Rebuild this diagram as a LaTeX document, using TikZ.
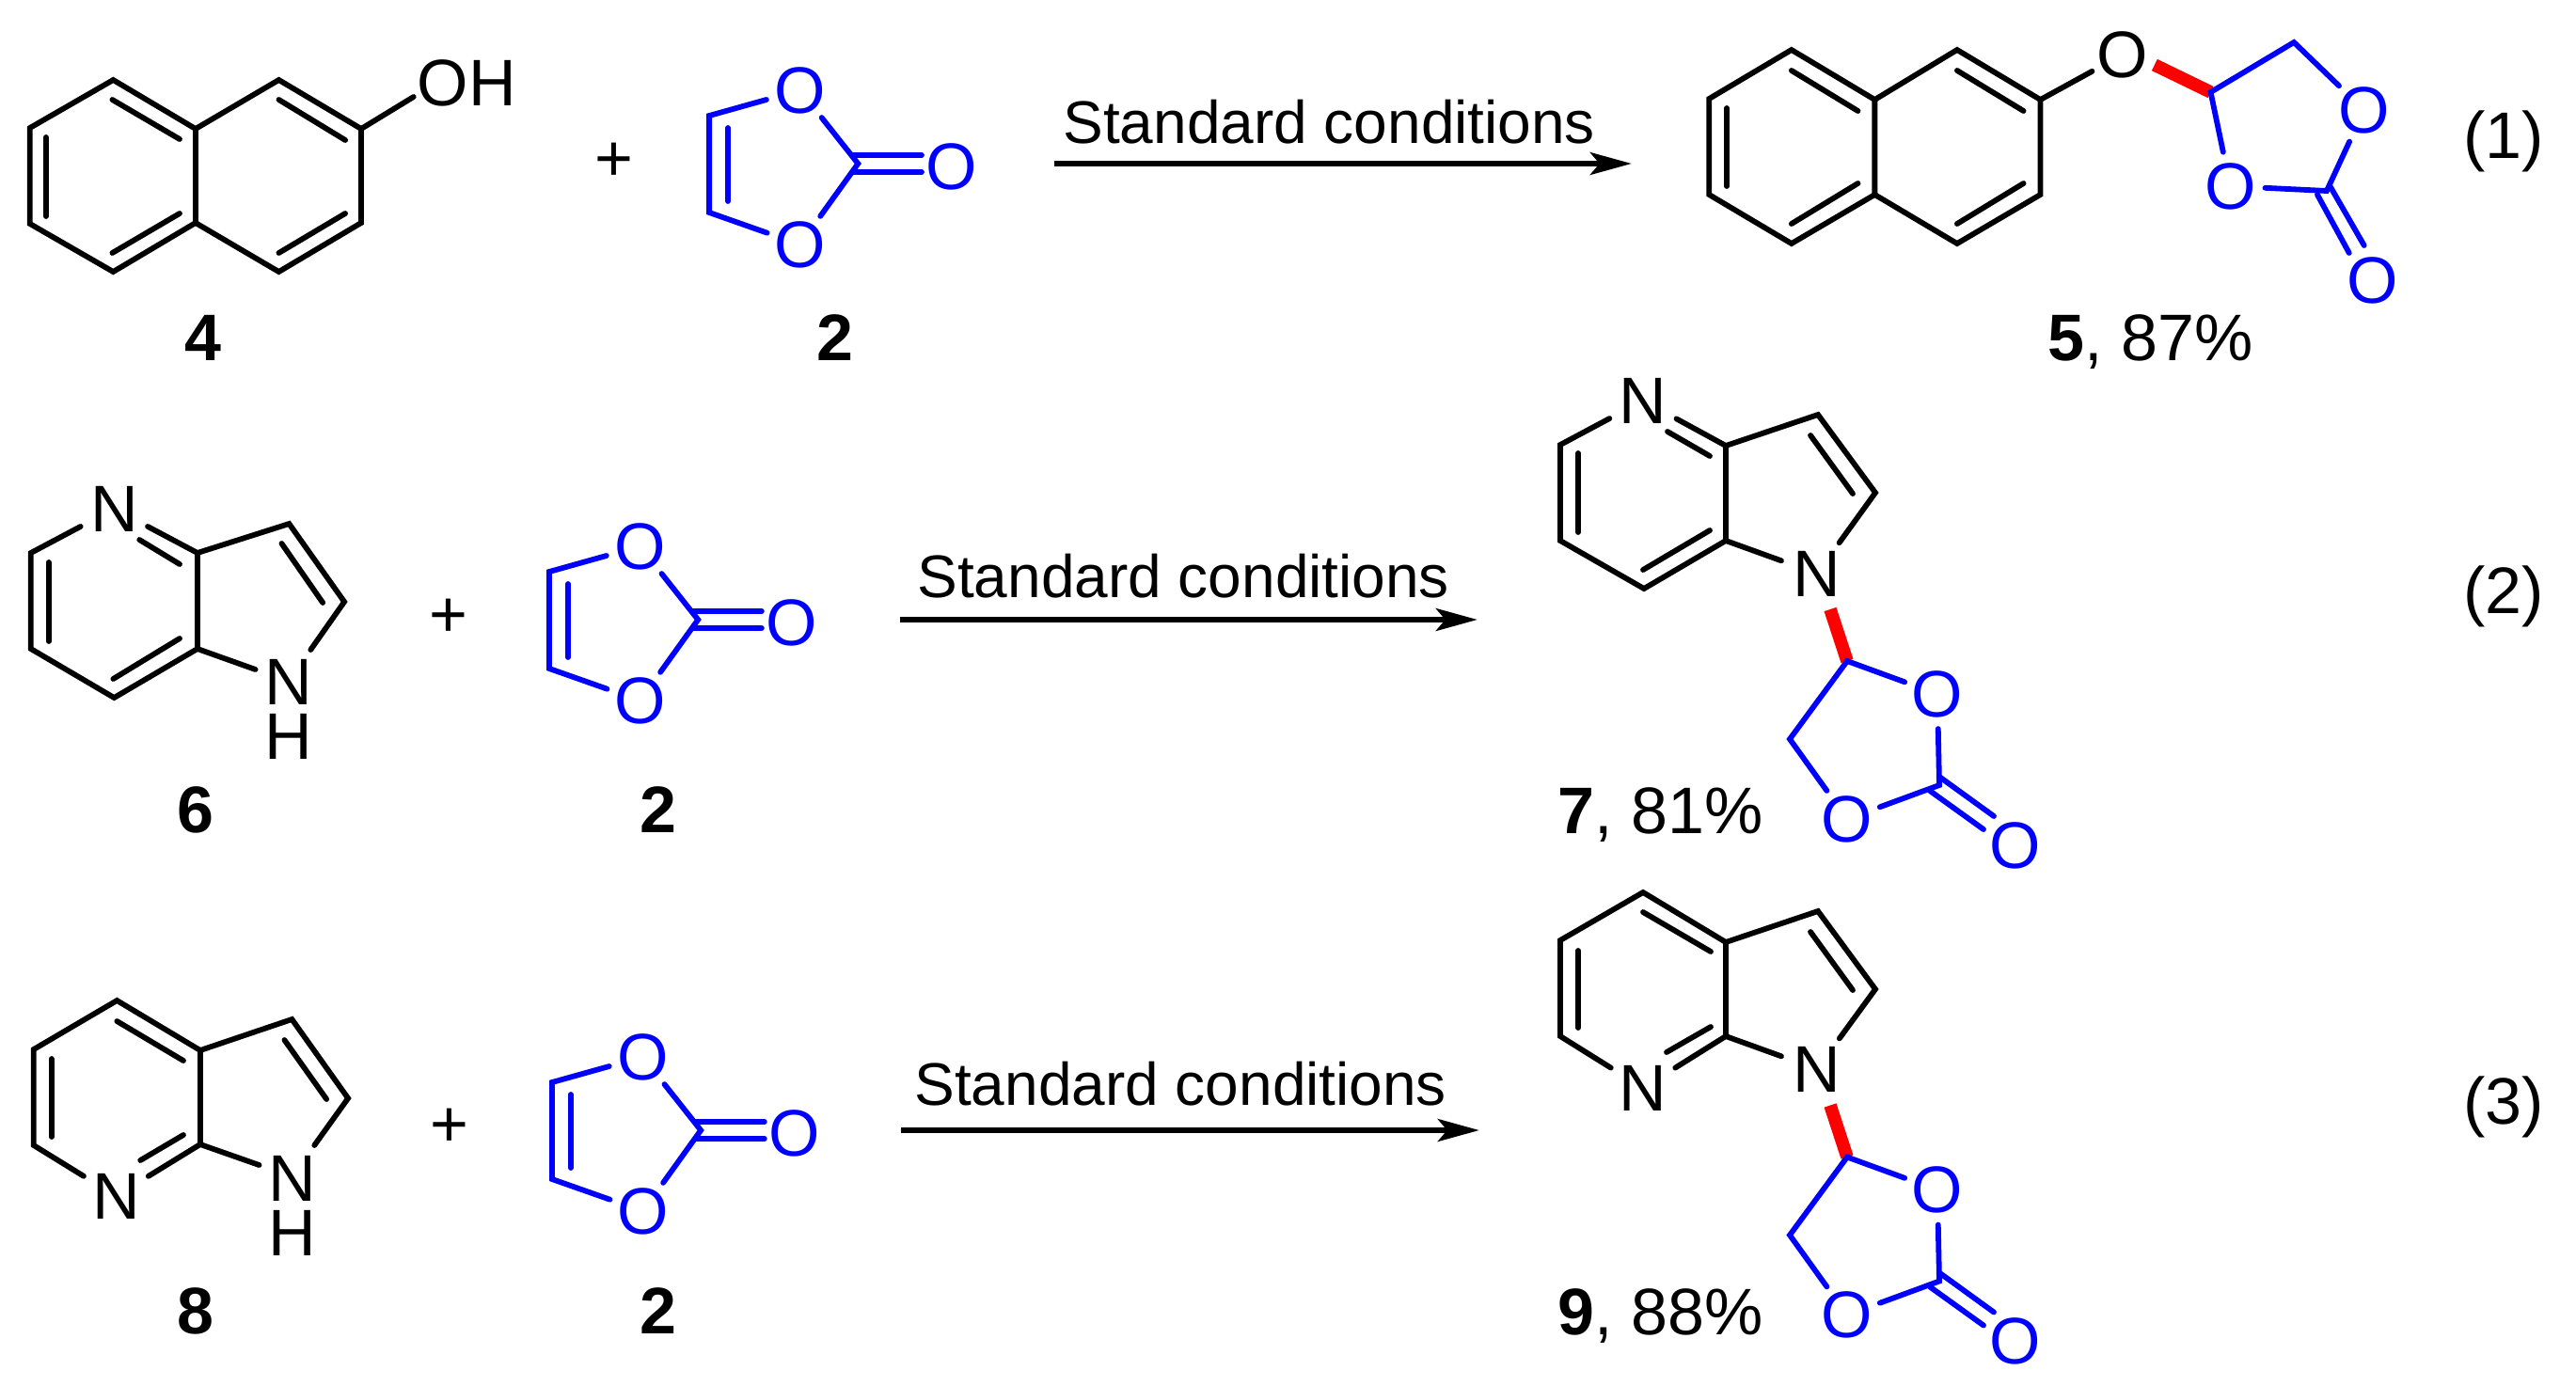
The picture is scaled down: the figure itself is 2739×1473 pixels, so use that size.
\documentclass[tikz,border=0pt]{standalone}
\usepackage{fontspec}
\setmainfont{Liberation Sans}
\usetikzlibrary{arrows.meta}
\tikzset{
  bond/.style={line width=2.9pt,line cap=round,line join=miter,black},
  bbond/.style={bond,blue},
  redbond/.style={line width=6.8pt,red,line cap=butt},
  arrowline/.style={line width=2.6pt,black,-{Stealth[length=22pt,width=12pt,inset=5pt]}},
  atomtxt/.style={font=\fontsize{35}{42}\selectfont,inner sep=0pt},
  atomO/.style={atomtxt,circle,minimum size=36pt,text=blue},
  atomOk/.style={atomtxt,circle,minimum size=36pt,text=black},
  atomN/.style={atomtxt,circle,minimum size=40pt,text=black},
  atomNH/.style={inner sep=0pt,align=center,font=\fontsize{35}{29}\selectfont},
  labeltxt/.style={font=\fontsize{35}{42}\selectfont,inner sep=0pt,anchor=base},
  labelw/.style={labeltxt,anchor=base west},
  condtxt/.style={font=\fontsize{32}{38}\selectfont,inner sep=0pt,anchor=base west},
  leftpart/.style={xscale=0.9949},
  midpart/.style={shift={(4.8,0)},xscale=0.9949},
  toppart/.style={shift={(5.6,0)},xscale=0.9949}
}
% vinylene carbonate, origin at the upper ring carbon
\newcommand{\vcmol}{%
  \coordinate (c4) at (0,0);
  \coordinate (c5) at (0,103);
  \coordinate (cc) at (159,51);
  \node[atomO] (o1) at (97,-27) {O};
  \node[atomO] (o3) at (97,137) {O};
  \node[atomO] (ox) at (259,54) {O};
  \coordinate (i1) at (20,13);
  \coordinate (i2) at (20,91);
  \coordinate (d1a) at (154,42);
  \coordinate (d1b) at (227,42);
  \coordinate (d2a) at (154,60);
  \coordinate (d2b) at (227,60);
  \draw[bbond] (o1) -- (c4) -- (c5) -- (o3);
  \draw[bbond] (o1) -- (cc) -- (o3);
  \draw[bbond] (i1) -- (i2);
  \draw[bbond] (d1a) -- (d1b);
  \draw[bbond] (d2a) -- (d2b);
}
% cyclic carbonate of products 7 and 9, origin at the substituted carbon
\newcommand{\ccmol}{%
  \coordinate (cs) at (0,0);
  \coordinate (ch) at (-61,83);
  \coordinate (cc) at (98,132);
  \node[atomO] (or) at (96,35) {O};
  \node[atomO] (ob) at (0,168) {O};
  \node[atomO] (ox) at (179,196) {O};
  \coordinate (d1a) at (98,123);
  \coordinate (d1b) at (156,165);
  \coordinate (d2a) at (88,138);
  \coordinate (d2b) at (145,179);
  \draw[bbond] (or) -- (cs) -- (ch) -- (ob);
  \draw[bbond] (or) -- (cc) -- (ob);
  \draw[bbond] (d1a) -- (d1b);
  \draw[bbond] (d2a) -- (d2b);
}
\begin{document}
\begin{tikzpicture}[x=0.5pt,y=-0.5pt]
\useasboundingbox (0,0) rectangle (2739,1473);
\fill[white] (0,0) rectangle (2739,1473);

% ---------- 4 ----------
\begin{scope}[leftpart]
\begin{scope}[name prefix=m4-]
  \coordinate (a) at (32,136);  \coordinate (b) at (121,85);
  \coordinate (c) at (209,137); \coordinate (d) at (209,237);
  \coordinate (e) at (121,289); \coordinate (f) at (32,238);
  \coordinate (g) at (298,85);  \coordinate (h) at (386,137);
  \coordinate (i) at (386,237); \coordinate (j) at (298,289);
  \coordinate (ohend) at (442,103);
  \node[atomtxt,text=black] (oh) at (499,88) {OH};
  \coordinate (p1) at (120,106); \coordinate (p2) at (192,148);
  \coordinate (q1) at (298,106); \coordinate (q2) at (369,149);
  \coordinate (r1) at (49,146);  \coordinate (r2) at (49,230);
  \coordinate (s1) at (192,227); \coordinate (s2) at (120,269);
  \coordinate (t1) at (369,227); \coordinate (t2) at (298,269);
  \draw[bond] (a) -- (b) -- (c) -- (d) -- (e) -- (f) -- cycle;
  \draw[bond] (c) -- (g) -- (h) -- (i) -- (j) -- (d);
  \draw[bond] (h) -- (ohend);
  \draw[bond] (p1) -- (p2);
  \draw[bond] (q1) -- (q2);
  \draw[bond] (r1) -- (r2);
  \draw[bond] (s1) -- (s2);
  \draw[bond] (t1) -- (t2);
\end{scope}
\node[labeltxt] (lab4) at (217,383) {\bfseries 4};
\node[atomtxt] (plus1) at (656,172) {+};
\begin{scope}[shift={(758,123)},name prefix=v1-] \vcmol \end{scope}
\node[labeltxt] (lab2a) at (892,383) {\bfseries 2};
\end{scope}

\begin{scope}[toppart]
\coordinate (arr1a) at (1121,174);
\coordinate (arr1b) at (1738,174);
\draw[arrowline] (arr1a) -- (arr1b);
% ---------- 5 ----------
\begin{scope}[name prefix=m5-]
  \coordinate (a) at (1821,105); \coordinate (b) at (1909,53);
  \coordinate (c) at (1998,106); \coordinate (d) at (1998,207);
  \coordinate (e) at (1909,259); \coordinate (f) at (1821,207);
  \coordinate (g) at (2086,53);  \coordinate (h) at (2175,106);
  \coordinate (i) at (2175,207); \coordinate (j) at (2086,259);
  \node[atomOk] (oe) at (2263,58) {O};
  \coordinate (p1) at (1909,75);  \coordinate (p2) at (1980,118);
  \coordinate (q1) at (2086,75);  \coordinate (q2) at (2157,118);
  \coordinate (r1) at (1840,115); \coordinate (r2) at (1840,198);
  \coordinate (s1) at (1980,195); \coordinate (s2) at (1909,238);
  \coordinate (t1) at (2157,195); \coordinate (t2) at (2086,238);
  \draw[bond] (a) -- (b) -- (c) -- (d) -- (e) -- (f) -- cycle;
  \draw[bond] (c) -- (g) -- (h) -- (i) -- (j) -- (d);
  \draw[bond] (h) -- (oe);
  \draw[bond] (p1) -- (p2);
  \draw[bond] (q1) -- (q2);
  \draw[bond] (r1) -- (r2);
  \draw[bond] (s1) -- (s2);
  \draw[bond] (t1) -- (t2);
  % carbonate
  \coordinate (cs) at (2357,98);
  \coordinate (ch) at (2446,45);
  \coordinate (cc) at (2481,203);
  \coordinate (redstart) at (2297,69);
  \node[atomO] (or) at (2521,117) {O};
  \node[atomO] (ob) at (2378,198) {O};
  \node[atomO] (ox) at (2530,298) {O};
  \coordinate (d1a) at (2484,197); \coordinate (d1b) at (2521,261);
  \coordinate (d2a) at (2471,207); \coordinate (d2b) at (2505,269);
  \draw[redbond] (redstart) -- (cs);
  \draw[bbond] (ob) -- (cs) -- (ch) -- (or);
  \draw[bbond] (or) -- (cc) -- (ob);
  \draw[bbond] (d1a) -- (d1b);
  \draw[bbond] (d2a) -- (d2b);
\end{scope}
\end{scope}
\node[condtxt] (cond1) at (1130,152) {Standard conditions};
\node[labelw] (lab5) at (2177,383) {\textbf{5}, 87\%};
\node[labelw] (eq1) at (2619,168) {(1)};

% ---------- 6 ----------
\begin{scope}[leftpart]
\begin{scope}[name prefix=m6-]
  \node[atomN] (n) at (122,541) {N};
  \coordinate (lt) at (33,588); \coordinate (lb) at (33,690);
  \coordinate (bo) at (122,742); \coordinate (jb) at (211,690);
  \coordinate (jt) at (211,588); \coordinate (pc) at (309,557);
  \coordinate (pd) at (368,640);
  \node[atomNH] (nh) at (308,754) {N\\H};
  \coordinate (nha) at (332,691); \coordinate (nhb) at (273,712);
  \coordinate (p1) at (149,574); \coordinate (p2) at (192,600);
  \coordinate (r1) at (52,598);  \coordinate (r2) at (52,682);
  \coordinate (s1) at (192,679); \coordinate (s2) at (121,722);
  \coordinate (t1) at (301,578); \coordinate (t2) at (345,641);
  \draw[bond] (n) -- (lt) -- (lb) -- (bo) -- (jb) -- (jt) -- (n);
  \draw[bond] (jt) -- (pc) -- (pd) -- (nha);
  \draw[bond] (nhb) -- (jb);
  \draw[bond] (p1) -- (p2);
  \draw[bond] (r1) -- (r2);
  \draw[bond] (s1) -- (s2);
  \draw[bond] (t1) -- (t2);
\end{scope}
\node[labeltxt] (lab6) at (209,885) {\bfseries 6};
\node[atomtxt] (plus2) at (479,657) {+};
\begin{scope}[shift={(587,608)},name prefix=v2-] \vcmol \end{scope}
\node[labeltxt] (lab2b) at (704,885) {\bfseries 2};
\end{scope}

\begin{scope}[midpart]
\coordinate (arr2a) at (957,659);
\coordinate (arr2b) at (1574,659);
\draw[arrowline] (arr2a) -- (arr2b);
\end{scope}
\node[condtxt] (cond2) at (975,635) {Standard conditions};

% ---------- 7 ----------
\begin{scope}[name prefix=m7-]
  \node[atomN] (n) at (1747,426) {N};
  \coordinate (lt) at (1659,473); \coordinate (lb) at (1659,575);
  \coordinate (bo) at (1748,626); \coordinate (jb) at (1835,575);
  \coordinate (jt) at (1835,474); \coordinate (pc) at (1933,441);
  \coordinate (pd) at (1994,524);
  \node[atomN] (n1) at (1932,610) {N};
  \coordinate (p1) at (1773,459); \coordinate (p2) at (1818,485);
  \coordinate (r1) at (1678,482); \coordinate (r2) at (1678,566);
  \coordinate (s1) at (1818,564); \coordinate (s2) at (1747,606);
  \coordinate (t1) at (1925,463); \coordinate (t2) at (1970,525);
  \coordinate (redstart) at (1946,648);
  \coordinate (redend) at (1964,703);
  \draw[bond] (n) -- (lt) -- (lb) -- (bo) -- (jb) -- (jt) -- (n);
  \draw[bond] (jt) -- (pc) -- (pd) -- (n1) -- (jb);
  \draw[bond] (p1) -- (p2);
  \draw[bond] (r1) -- (r2);
  \draw[bond] (s1) -- (s2);
  \draw[bond] (t1) -- (t2);
  \draw[redbond] (redstart) -- (redend);
\end{scope}
\begin{scope}[shift={(1964,703)},name prefix=c7-] \ccmol \end{scope}
\node[labelw] (lab7) at (1656,886) {\textbf{7}, 81\%};
\node[labelw] (eq2) at (2619,652) {(2)};

% ---------- 8 ----------
\begin{scope}[leftpart]
\begin{scope}[name prefix=m8-]
  \coordinate (to) at (125,1064);
  \coordinate (lt) at (36,1116); \coordinate (lb) at (36,1218);
  \node[atomN] (n) at (124,1272) {N};
  \coordinate (jb) at (214,1217); \coordinate (jt) at (214,1117);
  \coordinate (pc) at (312,1084); \coordinate (pd) at (372,1168);
  \node[atomNH] (nh) at (312,1282.5) {N\\H};
  \coordinate (nha) at (336,1218); \coordinate (nhb) at (277,1239);
  \coordinate (p1) at (150,1234); \coordinate (p2) at (196,1207);
  \coordinate (q1) at (125,1086); \coordinate (q2) at (196,1128);
  \coordinate (r1) at (55,1126);  \coordinate (r2) at (55,1209);
  \coordinate (t1) at (304,1106); \coordinate (t2) at (349,1169);
  \draw[bond] (n) -- (lb) -- (lt) -- (to) -- (jt) -- (jb) -- (n);
  \draw[bond] (jt) -- (pc) -- (pd) -- (nha);
  \draw[bond] (nhb) -- (jb);
  \draw[bond] (p1) -- (p2);
  \draw[bond] (q1) -- (q2);
  \draw[bond] (r1) -- (r2);
  \draw[bond] (t1) -- (t2);
\end{scope}
\node[labeltxt] (lab8) at (209,1418) {\bfseries 8};
\node[atomtxt] (plus3) at (480,1199) {+};
\begin{scope}[shift={(590,1151)},name prefix=v3-] \vcmol \end{scope}
\node[labeltxt] (lab2c) at (704,1418) {\bfseries 2};
\end{scope}

\begin{scope}[midpart]
\coordinate (arr3a) at (958,1202);
\coordinate (arr3b) at (1576,1202);
\draw[arrowline] (arr3a) -- (arr3b);
\end{scope}
\node[condtxt] (cond3) at (972,1175) {Standard conditions};

% ---------- 9 ----------
\begin{scope}[name prefix=m9-]
  \coordinate (to) at (1747,949);
  \coordinate (lt) at (1659,1000); \coordinate (lb) at (1659,1102);
  \node[atomN] (n) at (1747,1157) {N};
  \coordinate (jb) at (1835,1102); \coordinate (jt) at (1835,1002);
  \coordinate (pc) at (1933,969);  \coordinate (pd) at (1994,1052);
  \node[atomN] (n1) at (1932,1137) {N};
  \coordinate (p1) at (1772,1119); \coordinate (p2) at (1819,1092);
  \coordinate (q1) at (1747,970);  \coordinate (q2) at (1819,1012);
  \coordinate (r1) at (1678,1011); \coordinate (r2) at (1678,1093);
  \coordinate (t1) at (1925,991);  \coordinate (t2) at (1970,1053);
  \coordinate (redstart) at (1946,1175.5);
  \coordinate (redend) at (1964,1230.5);
  \draw[bond] (n) -- (lb) -- (lt) -- (to) -- (jt) -- (jb) -- (n);
  \draw[bond] (jt) -- (pc) -- (pd) -- (n1) -- (jb);
  \draw[bond] (p1) -- (p2);
  \draw[bond] (q1) -- (q2);
  \draw[bond] (r1) -- (r2);
  \draw[bond] (t1) -- (t2);
  \draw[redbond] (redstart) -- (redend);
\end{scope}
\begin{scope}[shift={(1964,1230.5)},name prefix=c9-] \ccmol \end{scope}
\node[labelw] (lab9) at (1656,1419) {\textbf{9}, 88\%};
\node[labelw] (eq3) at (2619,1195) {(3)};
\end{tikzpicture}
\end{document}
